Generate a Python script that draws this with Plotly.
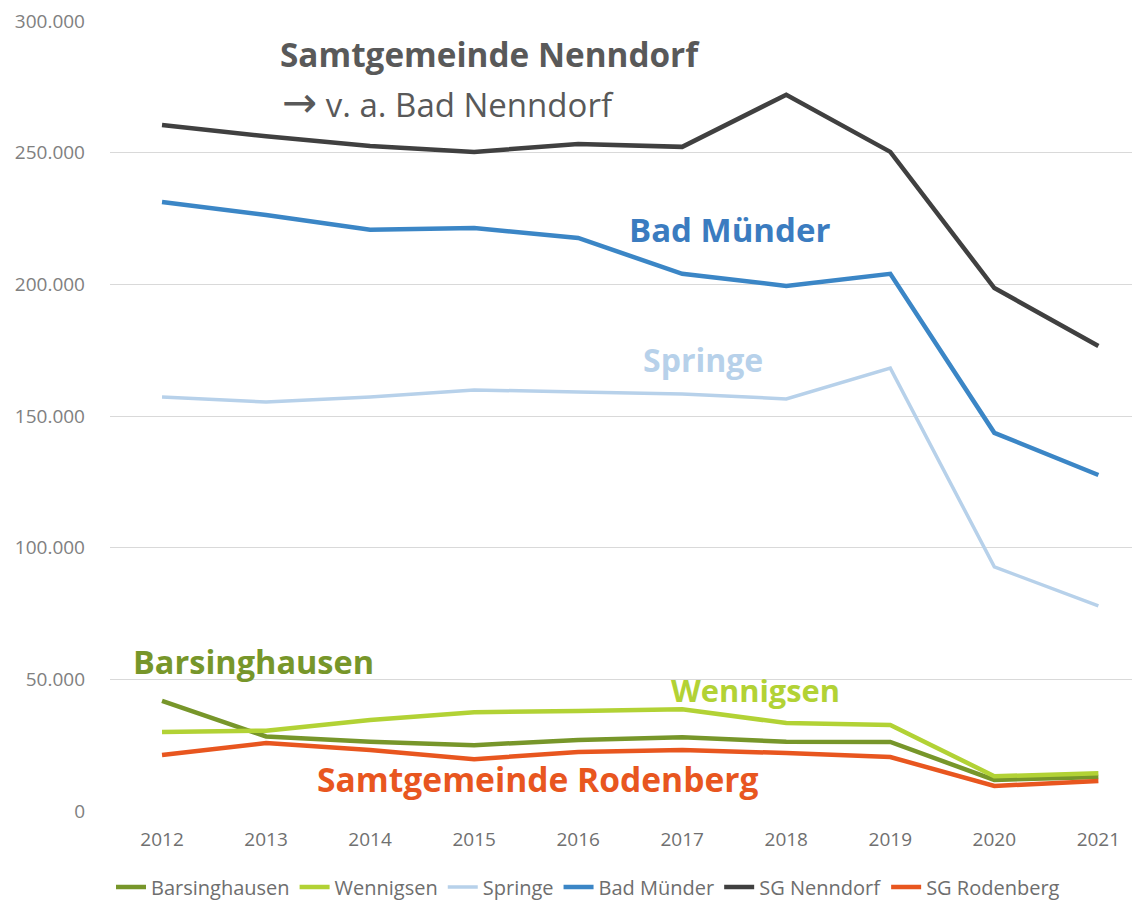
import plotly.graph_objects as go

years = [2012, 2013, 2014, 2015, 2016, 2017, 2018, 2019, 2020, 2021]
barsinghausen = [41800, 28300, 26300, 25000, 27000, 28000, 26300, 26200, 11800, 12900]
wennigsen = [30000, 30500, 34600, 37500, 38000, 38600, 33400, 32700, 13200, 14300]
springe = [157200, 155300, 157200, 159900, 159100, 158400, 156500, 168200, 92700, 77900]
bad_muender = [231300, 226300, 220700, 221400, 217600, 204000, 199400, 204000, 143600, 127600]
sg_nenndorf = [260500, 256200, 252500, 250300, 253300, 252200, 272000, 250300, 198600, 176600]
sg_rodenberg = [21300, 25800, 23200, 19700, 22400, 23200, 22000, 20500, 9500, 11400]

y_ticks = [0, 50000, 100000, 150000, 200000, 250000, 300000]
y_tick_labels = ["0", "50.000", "100.000", "150.000", "200.000", "250.000", "300.000"]

series = [
    ("Barsinghausen", barsinghausen, "#77962a", 4.5),
    ("Wennigsen", wennigsen, "#b2d235", 4.5),
    ("Springe", springe, "#b7d1ea", 3.5),
    ("Bad Münder", bad_muender, "#3b86c6", 4.5),
    ("SG Nenndorf", sg_nenndorf, "#404040", 4.5),
    ("SG Rodenberg", sg_rodenberg, "#e8561f", 4.5),
]

fig = go.Figure()
for name, vals, color, w in series:
    fig.add_trace(go.Scatter(x=years, y=vals, name=name, mode="lines",
                             line=dict(color=color, width=w)))

FONT = "Open Sans"
ARROW = '<span style="font-family:DejaVu Sans;font-size:42px">→</span>'
# (text, left px, centre px, colour, size) in screen pixels of the 1140x907 picture
labels = [
    ("<b>Samtgemeinde Nenndorf</b>", 278, 54, "#595959", 33.3),
    (ARROW + " v. a. Bad Nenndorf", 280, 102, "#595959", 33),
    ("<b>Bad Münder</b>", 627, 230, "#3b7cc0", 33),
    ("<b>Springe</b>", 641, 360, "#b7d1ea", 32),
    ("<b>Barsinghausen</b>", 131, 661, "#77962a", 32.5),
    ("<b>Wennigsen</b>", 669, 690, "#b2d235", 30.8),
    ("<b>Samtgemeinde Rodenberg</b>", 315, 779, "#e8561f", 33.6),
]
for text, px, py, color, size in labels:
    fig.add_annotation(text=text, xref="paper", yref="paper",
                       x=(px - 110) / 1030, y=(811 - py) / 790,
                       xanchor="left", yanchor="middle", showarrow=False,
                       font=dict(family=FONT, size=size, color=color))

W, H = 1132, 899
fig.update_layout(
    width=W, height=H,
    margin=dict(l=102, r=0, t=13, b=96),
    paper_bgcolor="white", plot_bgcolor="white",
    font=dict(family=FONT, color="#595959"),
    showlegend=True,
    legend=dict(orientation="h", xref="container", yref="container",
                x=(588 - 8) / W, y=1 - (887 - 8) / H, xanchor="center", yanchor="middle",
                font=dict(size=20, color="#6e6e6e"), itemwidth=30),
    xaxis=dict(range=[2011.5, 2021.4], tickvals=years, ticktext=[str(y) for y in years],
               showgrid=False, zeroline=False, showline=False, ticklabeloverflow="allow",
               tickfont=dict(size=19, color="#707070"), ticks="", ticklabelstandoff=15),
    yaxis=dict(range=[0, 300000], tickvals=y_ticks, ticktext=y_tick_labels,
               showgrid=True, gridcolor="#d9d9d9", gridwidth=1, zeroline=False,
               showline=False, ticklabeloverflow="allow",
               tickfont=dict(size=19, color="#808080"), ticks="",
               ticklabelstandoff=24),
)

fig.write_html("out.html")
